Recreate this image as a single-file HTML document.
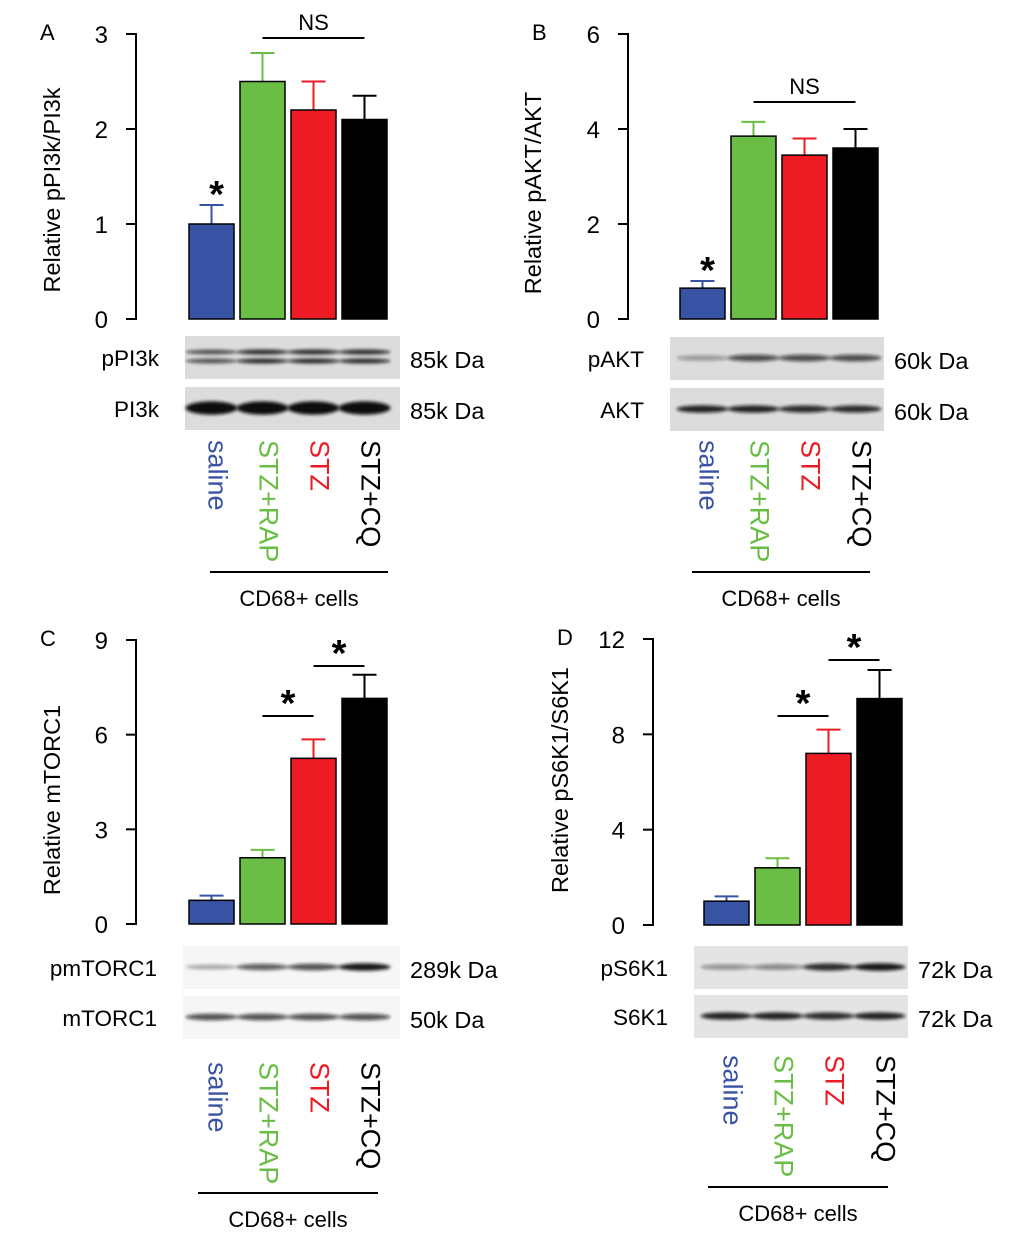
<!DOCTYPE html>
<html><head><meta charset="utf-8"><style>
body{margin:0;background:#fff}
svg text{font-family:"Liberation Sans",sans-serif}
</style></head><body>
<svg id="fig" width="1020" height="1253" viewBox="0 0 1020 1253" xmlns="http://www.w3.org/2000/svg">
<defs><filter id="blur" x="-20%" y="-100%" width="140%" height="300%"><feGaussianBlur stdDeviation="1.6"/></filter></defs>
</svg>
<script>
const categories=["saline","STZ+RAP","STZ","STZ+CQ"];
const colors=["#3953a4","#6abd45","#ed1c24","#000000"];
const valuesA=[1.0,2.5,2.2,2.1];const errA=[0.2,0.3,0.3,0.25];const ticksA=[0,1,2,3];
const valuesB=[0.65,3.85,3.45,3.6];const errB=[0.15,0.3,0.35,0.4];const ticksB=[0,2,4,6];
const valuesC=[0.75,2.1,5.25,7.15];const errC=[0.15,0.25,0.6,0.75];const ticksC=[0,3,6,9];
const valuesD=[1.0,2.4,7.2,9.5];const errD=[0.2,0.4,1.0,1.2];const ticksD=[0,4,8,12];
const bandA1=[0.7,0.85,0.85,0.85];const bandA2=[1,1,1,1];
const bandB1=[0.35,0.7,0.7,0.7];const bandB2=[0.9,0.9,0.85,0.85];
const bandC1=[0.3,0.65,0.7,0.95];const bandC2=[0.7,0.7,0.7,0.7];
const bandD1=[0.4,0.45,0.85,0.95];const bandD2=[0.9,0.9,0.85,0.9];
const svg=document.getElementById('fig');const NS='http://www.w3.org/2000/svg';
function mk(tag,a,parent,txt){const e=document.createElementNS(NS,tag);for(const k in a)e.setAttribute(k,a[k]);if(txt!==undefined)e.textContent=txt;(parent||svg).appendChild(e);return e;}
function panel(p){
 const g=mk('g',{});
 
 
 const max=p.ticks[p.ticks.length-1];
 const y=v=>p.y0-(p.y0-p.yT)*v/max;
 const t=mk('text',{x:p.ax-96,y:p.yT+6,'font-size':22},g,p.letter);
 
 const ax=mk('path',{d:`M${p.ax-10},${p.yT}H${p.ax}V${p.y0}H${p.ax-10}`,stroke:'#000','stroke-width':2,fill:'none'},g);
 
 p.ticks.forEach(tv=>{
  mk('line',{x1:p.ax-10,x2:p.ax,y1:y(tv),y2:y(tv),stroke:'#000','stroke-width':2},g);
  const tl=mk('text',{x:p.ax-28,y:y(tv)+9,'font-size':24,'text-anchor':'end'},g,tv);
  
 });
 const yt=mk('text',{x:0,y:0,'font-size':23.5,'text-anchor':'middle',transform:`translate(${p.tx},${p.tyc}) rotate(-90)`},g,p.title);
 
 p.vals.forEach((v,i)=>{
  const x=p.bx+i*51,cx=x+22.5,c=colors[i];
  const ye=y(v+p.err[i]);
  mk('line',{x1:cx,x2:cx,y1:ye,y2:y(v),stroke:c,'stroke-width':2},g);
  mk('line',{x1:cx-12,x2:cx+12,y1:ye,y2:ye,stroke:c,'stroke-width':2},g);
  const b=mk('rect',{x:x,y:y(v),width:45,height:p.y0-y(v),fill:c,stroke:'#000','stroke-width':1.5},g);
  
  const cl=mk('text',{x:0,y:0,'font-size':27,fill:c,transform:`translate(${cx-3},${p.cy}) rotate(90)`},g,categories[i]);
  
 });
 p.sig.forEach(s=>{
  const x1=p.bx+s[0]*51+22.5,x2=p.bx+s[1]*51+22.5,ly=s[2];
  const l=mk('line',{x1:x1,x2:x2,y1:ly,y2:ly,stroke:'#000','stroke-width':2},g);
  
  mk('text',{x:(x1+x2)/2,y:ly-(s[3]=='NS'?8:0),'font-size':s[3]=='NS'?22:38,'text-anchor':'middle','font-weight':s[3]=='NS'?'normal':'bold'},g,s[3]);
 });
 if(p.star){mk('text',{x:p.bx+22.5+5,y:y(p.vals[0]+p.err[0])+2,'font-size':38,'font-weight':'bold','text-anchor':'middle'},g,'*');}
 p.rows.forEach((r,j)=>{
  const bg=mk('rect',{x:p.blx,y:r.y,width:p.blw,height:43,fill:p.blotbg},g);
  
  r.bands.forEach((iv,i)=>{
   const cx=p.bx+i*51+22.5;
   const n=r.double?2:1;
   for(let k=0;k<n;k++){
    mk('ellipse',{cx:cx,cy:r.y+21+(n==2?(k*9-5):0),rx:26,ry:(r.thick?6:3.5)*(0.6+iv*0.5)*(n==2?0.7:1),fill:'#111','fill-opacity':iv,filter:'url(#blur)'},g);
   }
  });
  mk('text',{x:p.blx-26,y:r.y+30,'font-size':22.5,'text-anchor':'end'},g,r.name);
  mk('text',{x:p.blx+p.blw+10,y:r.y+32,'font-size':23.5},g,r.kda);
 });
 const cd=mk('line',{x1:p.cd[0],x2:p.cd[1],y1:p.cd[2],y2:p.cd[2],stroke:'#000','stroke-width':2},g);
 
 mk('text',{x:(p.cd[0]+p.cd[1])/2,y:p.cd[2]+34,'font-size':22,'text-anchor':'middle'},g,'CD68+ cells');
}
panel({letter:'A',ax:136,yT:34,y0:319,ticks:ticksA,vals:valuesA,err:errA,bx:189,title:'Relative pPI3k/PI3k',tx:60,tyc:190,cy:440,star:true,
 sig:[[1,3,38,'NS']],blx:185,blw:215,blotbg:'#dcdcdc',
 rows:[{y:336,name:'pPI3k',kda:'85k Da',bands:bandA1,double:true},{y:387,name:'PI3k',kda:'85k Da',bands:bandA2,thick:true}],cd:[210,388,572]});
panel({letter:'B',ax:628,yT:34,y0:319,ticks:ticksB,vals:valuesB,err:errB,bx:680,title:'Relative pAKT/AKT',tx:541,tyc:193,cy:440,star:true,
 sig:[[1,3,102,'NS']],blx:670,blw:214,blotbg:'#dcdcdc',
 rows:[{y:337,name:'pAKT',kda:'60k Da',bands:bandB1},{y:388,name:'AKT',kda:'60k Da',bands:bandB2}],cd:[692,870,572]});
panel({letter:'C',ax:136,yT:640,y0:924,ticks:ticksC,vals:valuesC,err:errC,bx:189,title:'Relative mTORC1',tx:60,tyc:800,cy:1062,star:false,
 sig:[[1,2,716,'*'],[2,3,666,'*']],blx:183,blw:217,blotbg:'#f6f6f6',
 rows:[{y:946,name:'pmTORC1',kda:'289k Da',bands:bandC1},{y:996,name:'mTORC1',kda:'50k Da',bands:bandC2}],cd:[198,378,1193]});
panel({letter:'D',ax:653,yT:639,y0:925,ticks:ticksD,vals:valuesD,err:errD,bx:704,title:'Relative pS6K1/S6K1',tx:568,tyc:780,cy:1055,star:false,
 sig:[[1,2,716,'*'],[2,3,660,'*']],blx:694,blw:214,blotbg:'#e4e4e4',
 rows:[{y:946,name:'pS6K1',kda:'72k Da',bands:bandD1},{y:995,name:'S6K1',kda:'72k Da',bands:bandD2}],cd:[708,888,1187]});
</script>
</body></html>
